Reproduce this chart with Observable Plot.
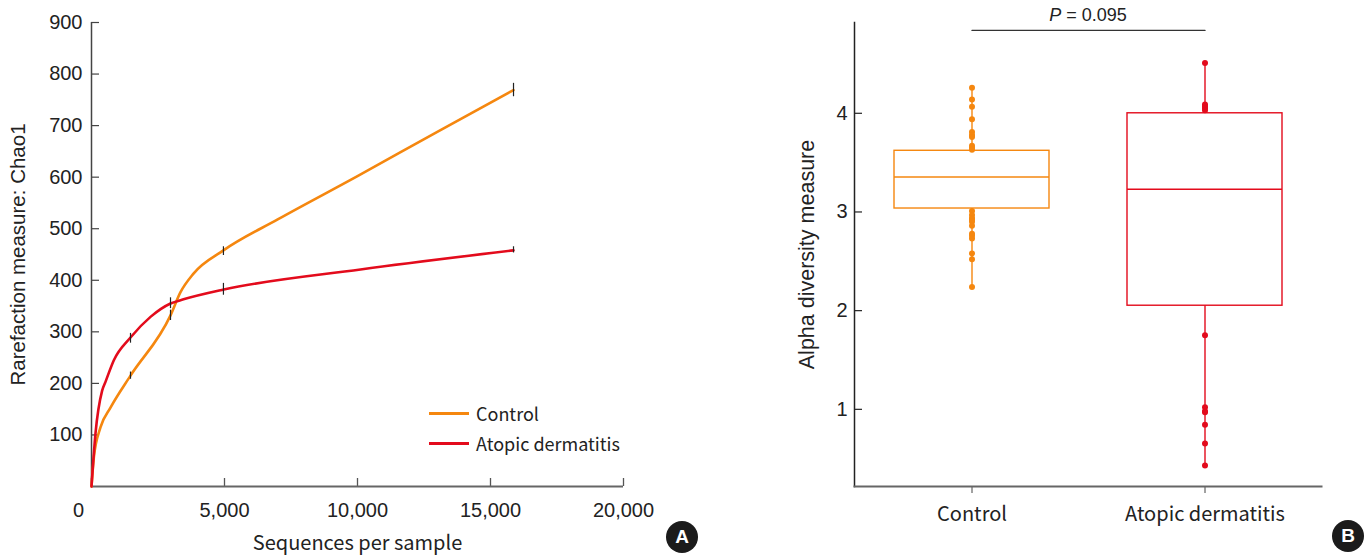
<!DOCTYPE html>
<html><head><meta charset="utf-8">
<script src="https://cdn.jsdelivr.net/npm/d3@7"></script>
<script src="https://cdn.jsdelivr.net/npm/@observablehq/plot@0.6"></script>
<style>
body{margin:0;background:#fff;}
#wrap{position:relative;width:1371px;height:556px;overflow:hidden;background:#fff;}
#left{position:absolute;left:0;top:0;}
#right{position:absolute;left:700px;top:0;}
.badge{position:absolute;width:32px;height:32px;border-radius:50%;background:#1b1b1b;color:#fff;font:bold 19px "Liberation Sans",Arial,sans-serif;display:flex;align-items:center;justify-content:center;}
.leg{position:absolute;font:18px "Noto Sans CJK KR","Noto Sans",sans-serif;color:#222;display:flex;align-items:center;white-space:nowrap;}
.leg span.sw{display:inline-block;width:40px;height:3px;margin-right:7px;}
</style>
</head><body>
<div id="wrap">
  <div id="left"></div>
  <div id="right"></div>
  <div id="legend"></div>
  <div class="badge" style="left:666px;top:521px;">A</div>
  <div class="badge" style="left:1332px;top:520px;">B</div>
</div>
<script>
// ---------- Panel A data ----------
const groups = ["Control", "Atopic dermatitis"];
const groupColors = ["#F5870F", "#E30B1C"];

const controlDepth = [0, 90, 340, 714, 1466, 2970, 3346, 3835, 4960, 7000, 10000, 13000, 15865];
const controlChao1 = [0, 57, 115, 153, 215, 332, 377, 413, 458, 518, 602, 688, 769];
const adDepth = [0, 150, 400, 526, 840, 1466, 2218, 2970, 3460, 4974, 10113, 15865];
const adChao1 = [0, 103, 186, 203, 245, 289, 329, 355, 363, 382, 421, 458];

const errGroup = ["Control","Control","Control","Control","Atopic dermatitis","Atopic dermatitis","Atopic dermatitis","Atopic dermatitis"];
const errDepth = [1466, 2970, 4960, 15865, 1466, 2970, 4960, 15865];
const errLow   = [208, 322, 448, 756, 278, 345, 371, 453];
const errHigh  = [222, 342, 465, 782, 297, 366, 394, 465];

const xTicksA = [0, 5000, 10000, 15000, 20000];
const yTicksA = [100, 200, 300, 400, 500, 600, 700, 800, 900];
const xLabelA = "Sequences per sample";
const yLabelA = "Rarefaction measure: Chao1";

// ---------- Panel B data ----------
const boxQ1 = [3.035, 2.05];
const boxMedian = [3.355, 3.23];
const boxQ3 = [3.62, 4.0];
const whiskerLow = [2.24, 0.43];
const whiskerHigh = [4.26, 4.51];
const controlPoints = [4.26, 4.14, 4.065, 3.94, 3.81, 3.78, 3.76, 3.67, 3.65, 3.63, 3.01, 2.97, 2.94, 2.92, 2.90, 2.86, 2.78, 2.76, 2.73, 2.58, 2.52, 2.24];
const adPoints = [4.51, 4.09, 4.07, 4.05, 4.03, 1.75, 1.02, 0.98, 0.97, 0.845, 0.655, 0.43];
const yTicksB = [1, 2, 3, 4];
const yLabelB = "Alpha diversity measure";
const pText = "P = 0.095";
const pLineValue = 4.84;

// ---------- tables ----------
const curveRows = [
  ...controlDepth.map((d, i) => ({group: groups[0], depth: d, chao1: controlChao1[i]})),
  ...adDepth.map((d, i) => ({group: groups[1], depth: d, chao1: adChao1[i]}))
];
const errRows = errDepth.map((d, i) => ({group: errGroup[i], depth: d, lo: errLow[i], hi: errHigh[i]}));
const boxRows = groups.map((g, i) => ({group: g, q1: boxQ1[i], med: boxMedian[i], q3: boxQ3[i], lo: whiskerLow[i], hi: whiskerHigh[i]}));
const pointRows = [
  ...controlPoints.map(v => ({group: groups[0], value: v})),
  ...adPoints.map(v => ({group: groups[1], value: v}))
];

const tickFont = "Liberation Sans, Arial, sans-serif";
const koFont = "Noto Sans CJK KR, Noto Sans, sans-serif";

// ---------- Panel A ----------
const plotA = Plot.plot({
  width: 700, height: 556,
  marginLeft: 91, marginRight: 77, marginTop: 22, marginBottom: 70,
  style: {fontFamily: tickFont, fontSize: "20px", color: "#222", background: "transparent"},
  x: {domain: [0, 20000], label: null},
  y: {domain: [0, 900], label: null},
  color: {domain: groups, range: groupColors},
  marks: [
    Plot.axisY({ticks: yTicksA, tickSize: 0, tickPadding: 9, fontSize: 20, label: null, tickFormat: d => String(d)}),
    Plot.axisY({ticks: yTicksA, tickSize: 8, dx: 8, text: null, label: null, stroke: "#444", strokeWidth: 1.2}),
    Plot.axisX({ticks: xTicksA.slice(1), tickSize: 0, tickPadding: 16, fontSize: 20, label: null, tickFormat: d3.format(",")}),
    Plot.axisX({ticks: xTicksA, tickSize: 8, dy: -8, text: null, label: null, stroke: "#555", strokeWidth: 1.3}),
    Plot.text(xTicksA.slice(0, 1), {x: d => d, text: d => String(d), frameAnchor: "bottom", lineAnchor: "top", dy: 16, dx: -13, fontSize: 20}),
    Plot.ruleX([0], {stroke: "#444", strokeWidth: 1.5}),
    Plot.ruleY([0], {stroke: "#666", strokeWidth: 2}),
    Plot.line(curveRows, {x: "depth", y: "chao1", stroke: "group", z: "group", curve: "monotone-x", strokeWidth: 2.6}),
    Plot.ruleX(errRows, {x: "depth", y1: "lo", y2: "hi", stroke: "#222", strokeWidth: 1.2}),
    Plot.text([xLabelA], {frameAnchor: "bottom", lineAnchor: "middle", dy: 57, fontFamily: koFont, fontSize: 20, fill: "#222"}),
    Plot.text([yLabelA], {frameAnchor: "left", textAnchor: "middle", lineAnchor: "middle", rotate: -90, dx: -73, fontSize: 20.5, fill: "#222"})
  ]
});
document.getElementById("left").appendChild(plotA);

// legend (HTML)
const legend = document.getElementById("legend");
groups.forEach((g, i) => {
  const div = document.createElement("div");
  div.className = "leg";
  div.style.left = "429px";
  div.style.top = (400 + i * 30) + "px";
  div.innerHTML = `<span class="sw" style="background:${groupColors[i]}"></span>${g}`;
  legend.appendChild(div);
});

// ---------- Panel B ----------
const plotB = Plot.plot({
  width: 671, height: 556,
  marginLeft: 154, marginRight: 50, marginTop: 22, marginBottom: 70,
  style: {fontFamily: tickFont, fontSize: "20px", color: "#222", background: "transparent", overflow: "visible"},
  x: {type: "band", domain: groups, padding: 0, label: null},
  y: {domain: [0.218, 4.92], label: null},
  color: {domain: groups, range: groupColors},
  marks: [
    Plot.axisY({ticks: yTicksB, tickSize: 0, tickPadding: 7, fontSize: 20, label: null, tickFormat: d => String(d)}),
    Plot.axisY({ticks: yTicksB, tickSize: 8, dx: 8, text: null, label: null, stroke: "#222", strokeWidth: 1.2}),
    Plot.axisX({tickSize: 7, tickPadding: 13, fontSize: 20, fontFamily: koFont, label: null, stroke: "#444"}),
    Plot.frame({anchor: "left", stroke: "#222", strokeWidth: 1.5}),
    Plot.frame({anchor: "bottom", stroke: "#666", strokeWidth: 2}),
    Plot.ruleX(boxRows, {x: "group", y1: "lo", y2: "hi", stroke: "group", strokeWidth: 1.4}),
    Plot.barY(boxRows, {x: "group", y1: "q1", y2: "q3", fill: "white", stroke: "group", strokeWidth: 1.4, insetLeft: 39, insetRight: 39}),
    Plot.tickY(boxRows, {x: "group", y: "med", stroke: "group", strokeWidth: 1.4, insetLeft: 39, insetRight: 39}),
    Plot.dot(pointRows, {x: "group", y: "value", fill: "group", r: 3}),
    Plot.line(groups.map(g => ({group: g, value: pLineValue})), {x: "group", y: "value", stroke: "#333", strokeWidth: 1.4}),
    Plot.text([pText], {frameAnchor: "top", lineAnchor: "middle", dy: -7, fontSize: 18, fontFamily: tickFont, fill: "#222"}),
    Plot.text([yLabelB], {frameAnchor: "left", textAnchor: "middle", lineAnchor: "middle", rotate: -90, dx: -47, fontSize: 21.5, fill: "#222"})
  ]
});
document.getElementById("right").appendChild(plotB);
plotB.querySelectorAll("text").forEach(t => {
  if (t.textContent === pText) {
    t.innerHTML = '<tspan font-style="italic">P</tspan> = 0.095';
  }
});
</script>
</body></html>
